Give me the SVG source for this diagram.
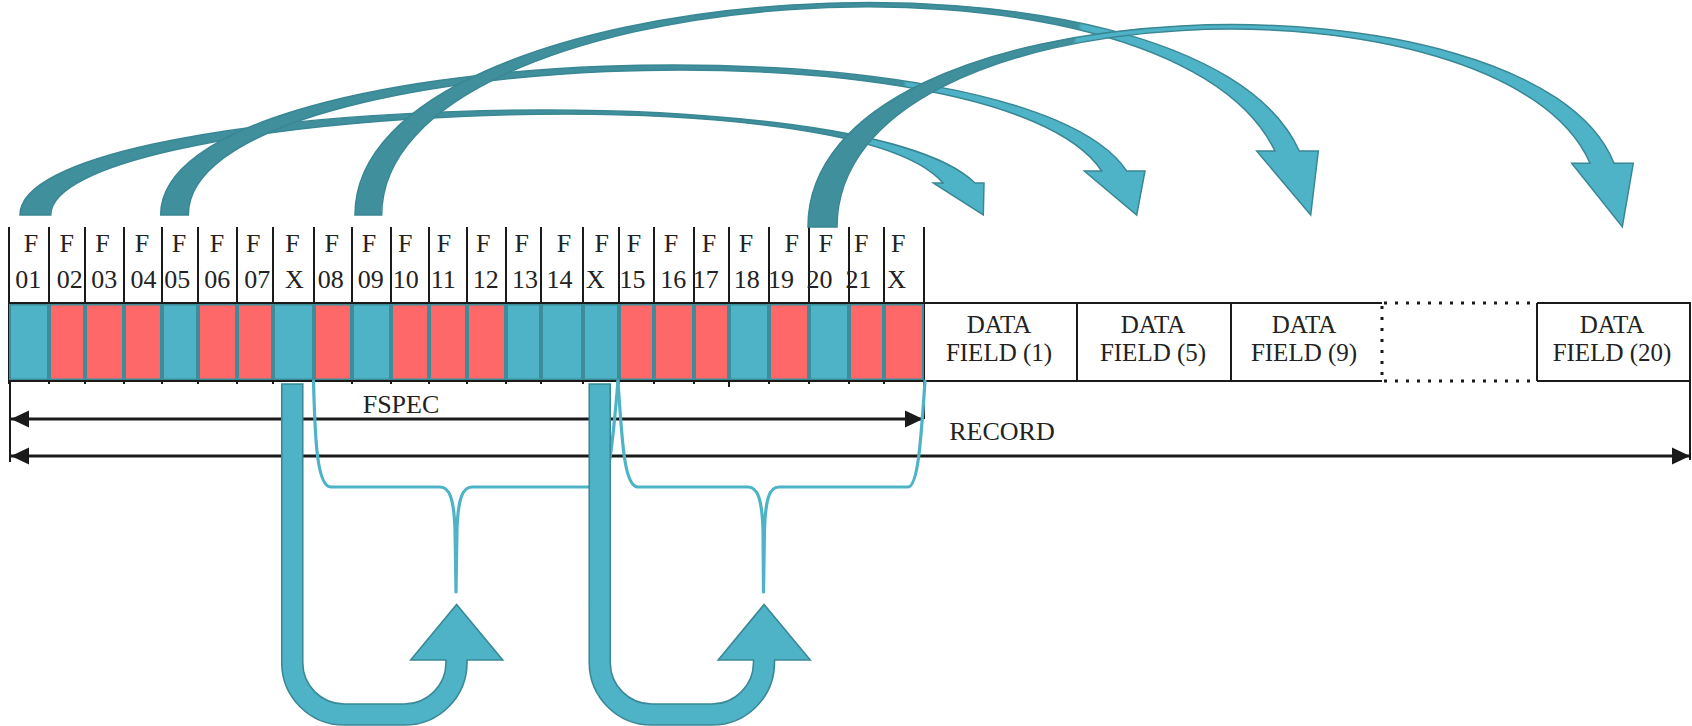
<svg xmlns="http://www.w3.org/2000/svg" width="1692" height="726" viewBox="0 0 1692 726">
  <style>
    .lbl { font-family: "Liberation Serif", "Times New Roman", serif; font-size: 26px; fill: #222; text-anchor: middle; }
    .dlbl { font-family: "Liberation Serif", "Times New Roman", serif; font-size: 25px; fill: #222; text-anchor: middle; }
    .rule { stroke: #1a1a1a; stroke-width: 2; fill: none; }
    .dots { stroke: #1a1a1a; stroke-width: 3; fill: none; stroke-dasharray: 3 8; }
    .on { fill: #4fb3c8; stroke: #3d8c99; stroke-width: 2; }
    .off { fill: #fe6868; stroke: #3d8c99; stroke-width: 2; }
    .brace { fill: none; stroke: #4fb3c8; stroke-width: 3.2; stroke-linecap: round; stroke-linejoin: round; }
    .uarrow { fill: #4fb3c8; stroke: #3a8996; stroke-width: 1.6; stroke-linejoin: miter; }
    .arc { stroke: #3a8794; stroke-width: 1.5; stroke-linejoin: miter; }
    .dim { stroke: #1a1a1a; stroke-width: 3; fill: none; }
  </style>
  <defs>
    <marker id="tipEnd" markerUnits="userSpaceOnUse" viewBox="0 0 18 18" refX="18" refY="9" markerWidth="18" markerHeight="18" orient="auto">
      <path d="M0,0.5 L18,9 L0,17.5 Z" fill="#1a1a1a"/>
    </marker>
    <marker id="tipStart" markerUnits="userSpaceOnUse" viewBox="0 0 18 18" refX="0" refY="9" markerWidth="18" markerHeight="18" orient="auto">
      <path d="M18,0.5 L0,9 L18,17.5 Z" fill="#1a1a1a"/>
    </marker>
    <linearGradient id="g1" gradientUnits="userSpaceOnUse" x1="858" y1="0" x2="862" y2="0">
      <stop offset="0" stop-color="#3f8f9c"/><stop offset="1" stop-color="#4fb3c8"/>
    </linearGradient>
    <linearGradient id="g2" gradientUnits="userSpaceOnUse" x1="903" y1="0" x2="907" y2="0">
      <stop offset="0" stop-color="#3f8f9c"/><stop offset="1" stop-color="#4fb3c8"/>
    </linearGradient>
    <linearGradient id="g3" gradientUnits="userSpaceOnUse" x1="1078" y1="0" x2="1082" y2="0">
      <stop offset="0" stop-color="#3f8f9c"/><stop offset="1" stop-color="#4fb3c8"/>
    </linearGradient>
    <linearGradient id="g4" gradientUnits="userSpaceOnUse" x1="1073" y1="0" x2="1077" y2="0">
      <stop offset="0" stop-color="#3f8f9c"/><stop offset="1" stop-color="#4fb3c8"/>
    </linearGradient>
    <path id="uShape" d="M281.75,384 L281.75,662.5 A62.5,62.5 0 0 0 344.25,725 L404.5,725 A62.5,62.5 0 0 0 467,662.5 L467,660 L502.7,660 L456.6,604.5 L410.7,660 L446,660 L446,662.5 A41.5,41.5 0 0 1 404.5,704 L344.25,704 A41.5,41.5 0 0 1 302.75,662.5 L302.75,384 Z"/>
  </defs>

  <rect width="1692" height="726" fill="#ffffff"/>

  <!-- FSPEC header: column separators and F labels -->
  <g id="fspec-header">
    <g class="rule">
      <line x1="9" y1="227" x2="9" y2="384"/>
      <line x1="49" y1="227" x2="49" y2="384"/>
      <line x1="85" y1="227" x2="85" y2="384"/>
      <line x1="124" y1="227" x2="124" y2="384"/>
      <line x1="162" y1="227" x2="162" y2="384"/>
      <line x1="198" y1="227" x2="198" y2="384"/>
      <line x1="237" y1="227" x2="237" y2="384"/>
      <line x1="273" y1="227" x2="273" y2="384"/>
      <line x1="314" y1="227" x2="314" y2="384"/>
      <line x1="352" y1="227" x2="352" y2="384"/>
      <line x1="391" y1="227" x2="391" y2="384"/>
      <line x1="429" y1="227" x2="429" y2="384"/>
      <line x1="467" y1="227" x2="467" y2="384"/>
      <line x1="506" y1="227" x2="506" y2="384"/>
      <line x1="541" y1="227" x2="541" y2="384"/>
      <line x1="583" y1="227" x2="583" y2="384"/>
      <line x1="619" y1="227" x2="619" y2="384"/>
      <line x1="654" y1="227" x2="654" y2="384"/>
      <line x1="694" y1="227" x2="694" y2="384"/>
      <line x1="729" y1="227" x2="729" y2="387"/>
      <line x1="769" y1="227" x2="769" y2="384"/>
      <line x1="809" y1="227" x2="809" y2="384"/>
      <line x1="849" y1="227" x2="849" y2="384"/>
      <line x1="884" y1="227" x2="884" y2="384"/>
      <line x1="924" y1="227" x2="924" y2="384"/>
    </g>
    <g class="lbl">
      <text x="31" y="252">F</text><text x="28.3" y="288">01</text>
      <text x="66.7" y="252">F</text><text x="69.7" y="288">02</text>
      <text x="102.5" y="252">F</text><text x="104.2" y="288">03</text>
      <text x="142" y="252">F</text><text x="143.5" y="288">04</text>
      <text x="179" y="252">F</text><text x="177.2" y="288">05</text>
      <text x="217" y="252">F</text><text x="217.2" y="288">06</text>
      <text x="253.3" y="252">F</text><text x="257.2" y="288">07</text>
      <text x="292.5" y="252">F</text><text x="294.5" y="288">X</text>
      <text x="331.7" y="252">F</text><text x="330.8" y="288">08</text>
      <text x="369" y="252">F</text><text x="370.8" y="288">09</text>
      <text x="405.3" y="252">F</text><text x="405.8" y="288">10</text>
      <text x="444" y="252">F</text><text x="443.3" y="288">11</text>
      <text x="483.3" y="252">F</text><text x="485.7" y="288">12</text>
      <text x="521.7" y="252">F</text><text x="525" y="288">13</text>
      <text x="564" y="252">F</text><text x="559.6" y="288">14</text>
      <text x="601.7" y="252">F</text><text x="595.3" y="288">X</text>
      <text x="634" y="252">F</text><text x="632.5" y="288">15</text>
      <text x="671" y="252">F</text><text x="673.3" y="288">16</text>
      <text x="709" y="252">F</text><text x="705.8" y="288">17</text>
      <text x="746" y="252">F</text><text x="746.7" y="288">18</text>
      <text x="791.7" y="252">F</text><text x="781" y="288">19</text>
      <text x="825.8" y="252">F</text><text x="819.5" y="288">20</text>
      <text x="861.2" y="252">F</text><text x="858.5" y="288">21</text>
      <text x="898.3" y="252">F</text><text x="896.7" y="288">X</text>
    </g>
  </g>

  <!-- FSPEC bit cells -->
  <g id="fspec-bits">
    <rect class="on"  x="10"  y="304.5" width="38" height="75"/>
    <rect class="off" x="50"  y="304.5" width="34" height="75"/>
    <rect class="off" x="86"  y="304.5" width="37" height="75"/>
    <rect class="off" x="125" y="304.5" width="36" height="75"/>
    <rect class="on"  x="163" y="304.5" width="34" height="75"/>
    <rect class="off" x="199" y="304.5" width="37" height="75"/>
    <rect class="off" x="238" y="304.5" width="34" height="75"/>
    <rect class="on"  x="274" y="304.5" width="39" height="75"/>
    <rect class="off" x="315" y="304.5" width="36" height="75"/>
    <rect class="on"  x="353" y="304.5" width="37" height="75"/>
    <rect class="off" x="392" y="304.5" width="36" height="75"/>
    <rect class="off" x="430" y="304.5" width="36" height="75"/>
    <rect class="off" x="468" y="304.5" width="37" height="75"/>
    <rect class="on"  x="507" y="304.5" width="33" height="75"/>
    <rect class="on"  x="542" y="304.5" width="40" height="75"/>
    <rect class="on"  x="584" y="304.5" width="34" height="75"/>
    <rect class="off" x="620" y="304.5" width="33" height="75"/>
    <rect class="off" x="655" y="304.5" width="38" height="75"/>
    <rect class="off" x="695" y="304.5" width="33" height="75"/>
    <rect class="on"  x="730" y="304.5" width="38" height="75"/>
    <rect class="off" x="770" y="304.5" width="38" height="75"/>
    <rect class="on"  x="810" y="304.5" width="38" height="75"/>
    <rect class="off" x="850" y="304.5" width="33" height="75"/>
    <rect class="off" x="885" y="304.5" width="38" height="75"/>
  </g>

  <!-- record outline rules -->
  <g id="record-frame" class="rule">
    <line x1="9" y1="303" x2="1382" y2="303"/>
    <line x1="9" y1="381" x2="1382" y2="381"/>
    <line x1="1537" y1="303" x2="1691" y2="303"/>
    <line x1="1537" y1="381" x2="1691" y2="381"/>
  </g>

  <!-- data fields -->
  <g id="data-field-1">
    <line class="rule" x1="1077" y1="303" x2="1077" y2="381"/>
    <text class="dlbl" x="999" y="333">DATA</text>
    <text class="dlbl" x="999" y="361">FIELD (1)</text>
  </g>
  <g id="data-field-5">
    <line class="rule" x1="1231" y1="303" x2="1231" y2="381"/>
    <text class="dlbl" x="1153" y="333">DATA</text>
    <text class="dlbl" x="1153" y="361">FIELD (5)</text>
  </g>
  <g id="data-field-9">
    <text class="dlbl" x="1304" y="333">DATA</text>
    <text class="dlbl" x="1304" y="361">FIELD (9)</text>
  </g>
  <g id="data-gap">
    <line class="dots" x1="1384" y1="303" x2="1532" y2="303"/>
    <line class="dots" x1="1384" y1="381" x2="1532" y2="381"/>
    <line class="dots" x1="1382" y1="306" x2="1382" y2="380" stroke-width="2.5"/>
  </g>
  <g id="data-field-20">
    <line class="rule" x1="1537" y1="303" x2="1537" y2="381"/>
    <line class="rule" x1="1690" y1="303" x2="1690" y2="381"/>
    <text class="dlbl" x="1612" y="333">DATA</text>
    <text class="dlbl" x="1612" y="361">FIELD (20)</text>
  </g>

  <!-- extent dimensions -->
  <g id="dimensions">
    <line class="rule" x1="10" y1="381" x2="10" y2="462"/>
    <line class="rule" x1="1690" y1="381" x2="1690" y2="460"/>
    <line class="rule" x1="924" y1="381" x2="924" y2="419"/>
    <line class="dim" x1="11" y1="419" x2="923" y2="419" marker-start="url(#tipStart)" marker-end="url(#tipEnd)"/>
    <line class="dim" x1="11" y1="456" x2="1690" y2="456" marker-start="url(#tipStart)" marker-end="url(#tipEnd)"/>
    <text class="lbl" x="401" y="413">FSPEC</text>
    <text class="lbl" x="1002" y="440">RECORD</text>
  </g>

  <!-- connectors -->
  <g id="connectors">
    <!-- braces grouping the fields announced by each extension bit -->
    <path class="brace" d="M313.5,381 C315,440 317,487 331,487 L440,487 C450,487 454,500 455,530 L456,592 L457,530 C458,500 462,487 472,487 L598,487 C609,487 613,440 618,381"/>
    <path class="brace" d="M618,381 C622,440 624,487 638,487 L748,487 C758,487 762,500 763,530 L763.5,592 L764.5,530 C765.5,500 769,487 779,487 L908,487 C918,487 921,440 925,381"/>

    <!-- extension bit loops -->
    <use href="#uShape" class="uarrow"/>
    <use href="#uShape" class="uarrow" x="307.5"/>

    <!-- presence bit to data field arrows -->
    <path class="arc" fill="url(#g1)" d="M20,215 C20,98 855,67 975,183 L984,183 L983.3,215 L933.3,183 L943,183 C845,68 50.7,110 50.7,215 Z"/>
    <path class="arc" fill="url(#g2)" d="M160.7,215 C160.7,36 1022,12 1126.7,171 L1145,171 L1136.7,215 L1084.3,171 L1101.7,171 C1000,16 188.3,46 188.3,215 Z"/>
    <path class="arc" fill="url(#g3)" d="M355,215 C355,-28 1195,-80 1299.3,151 L1318.3,151 L1310.7,215 L1256.7,151 L1275,151 C1165,-76 381.7,-20 381.7,215 Z"/>
    <path class="arc" fill="url(#g4)" d="M808,227 C808,-23 1534,-38 1614,163.3 L1633.3,163.3 L1622.3,226.7 L1571.7,163.3 L1590,163.3 C1506,-32 837,-17 837,227 Z"/>
  </g>
</svg>
